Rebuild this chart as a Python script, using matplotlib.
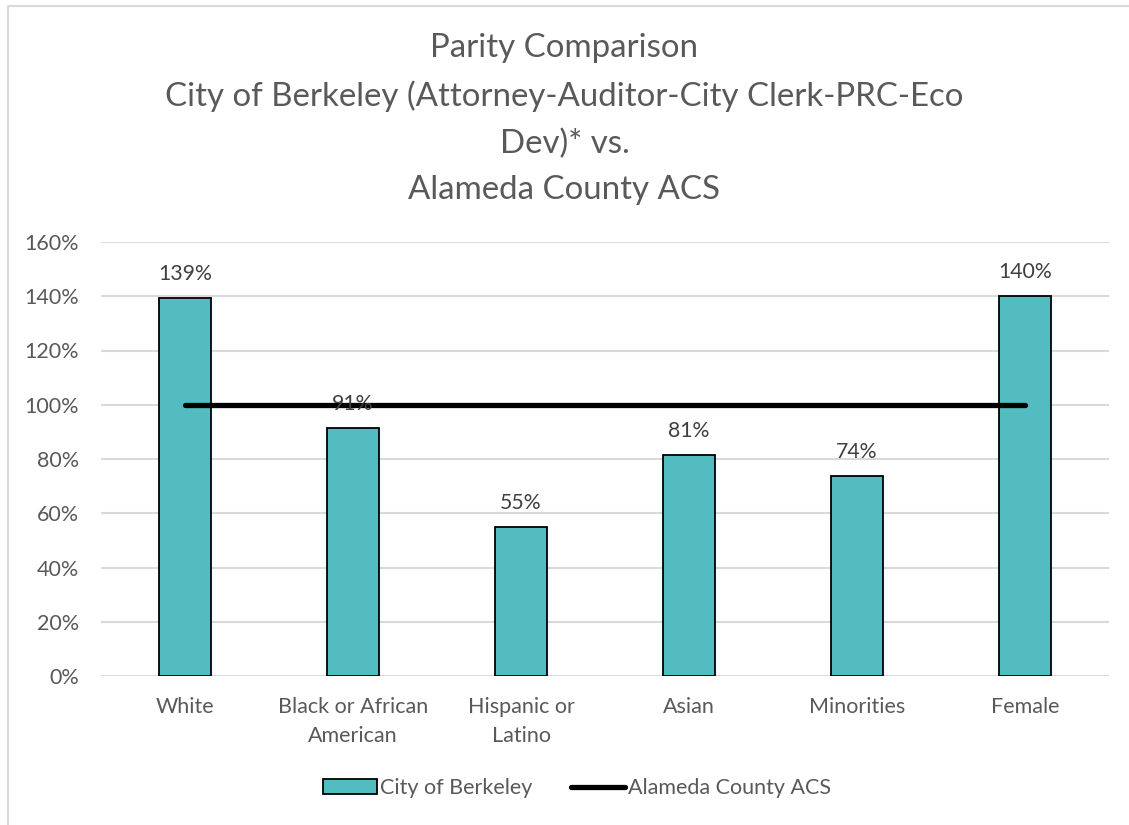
import numpy as np
import matplotlib.pyplot as plt
import matplotlib.patches as mpatches
from matplotlib.lines import Line2D
from matplotlib.ticker import PercentFormatter

categories = ["White", "Black or African\nAmerican", "Hispanic or\nLatino", "Asian", "Minorities", "Female"]
berkeley = [1.394, 0.914, 0.549, 0.814, 0.737, 1.401]
berkeley_labels = ["139%", "91%", "55%", "81%", "74%", "140%"]
alameda = [1.0, 1.0, 1.0, 1.0, 1.0, 1.0]

title = "Parity Comparison\nCity of Berkeley (Attorney-Auditor-City Clerk-PRC-Eco\nDev)* vs.\nAlameda County ACS"

plt.rcParams['font.family'] = ['Lato', 'DejaVu Sans']

bar_color = "#52bcc0"
text_grey = "#595959"
grid_grey = "#d9d9d9"

fig = plt.figure(figsize=(11.29, 8.25), dpi=100)
ax = fig.add_axes([101 / 1129, 1 - 676 / 825, 1008 / 1129, 434 / 825])

x = np.arange(len(categories))
ax.bar(x, berkeley, width=0.31, color=bar_color, edgecolor="black", linewidth=1.3, zorder=2)
ax.plot(x, alameda, color="black", linewidth=3.8, solid_capstyle="round", zorder=3)

for xi, v, lab in zip(x, berkeley, berkeley_labels):
    ax.annotate(lab, (xi, v), xytext=(0, 10), textcoords="offset points",
                ha="center", va="bottom", fontsize=15.3, color="#404040", zorder=4)

ax.set_xlim(-0.5, len(categories) - 0.5)
ax.set_ylim(0, 1.6)
ax.set_yticks(np.arange(0, 1.61, 0.2))
ax.yaxis.set_major_formatter(PercentFormatter(1.0, decimals=0))
ax.set_xticks(x)
ax.set_xticklabels(categories, linespacing=1.6)
ax.tick_params(axis="both", length=0, labelsize=15.5, labelcolor=text_grey)
ax.tick_params(axis="x", pad=15)
ax.tick_params(axis="y", pad=16)
ax.grid(axis="y", color=grid_grey, linewidth=1.5, zorder=0)
ax.set_axisbelow(True)
for s in ax.spines.values():
    s.set_visible(False)

fig.text(0.5, 1 - 119 / 825, title, ha="center", va="center", fontsize=23.8,
         color=text_grey, linespacing=1.68)

handles = [mpatches.Patch(facecolor=bar_color, edgecolor="black", linewidth=1.3, label="City of Berkeley"),
           Line2D([0], [0], color="black", linewidth=3.8, solid_capstyle="round", label="Alameda County ACS")]
fig.legend(handles=handles, loc="center", bbox_to_anchor=(0.511, 1 - 788 / 825), ncol=2, frameon=False,
           fontsize=15.5, labelcolor=text_grey, handlelength=2.5, handleheight=0.65,
           handletextpad=0.15, columnspacing=1.8)

# chart area border (only top and left visible in the crop)
fig.add_artist(Line2D([8 / 1129, 8 / 1129, 1.0], [0.0, 1 - 6 / 825, 1 - 6 / 825],
                      transform=fig.transFigure, color="#d9d9d9", linewidth=1.5))

fig.savefig("out.png", dpi=100, facecolor="white")
plt.close(fig)
